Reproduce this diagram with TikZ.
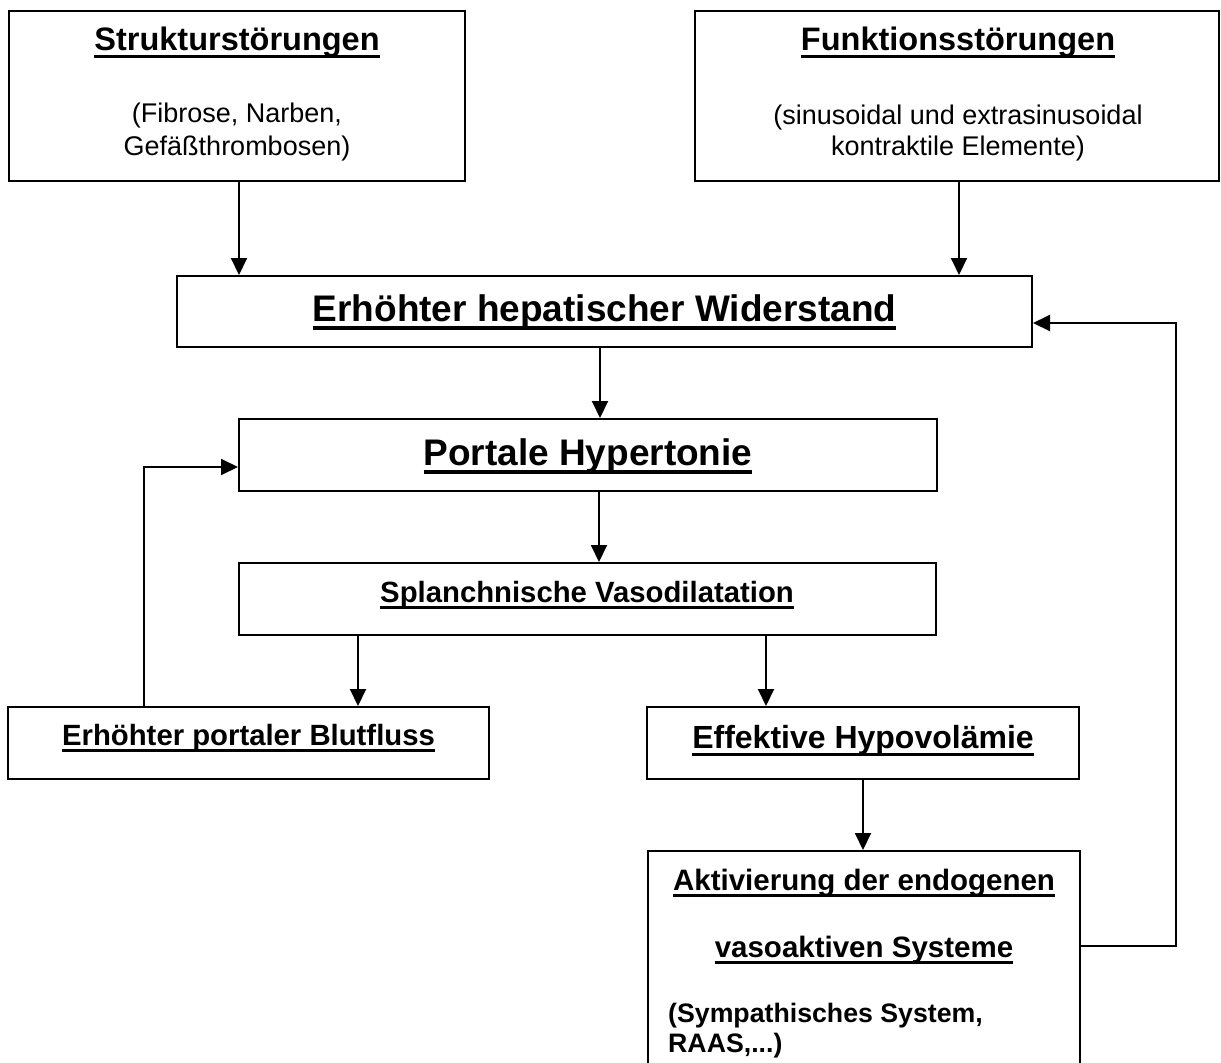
\documentclass[tikz,border=0pt]{standalone}
\usepackage{fontspec}
\setmainfont{Liberation Sans}
\usetikzlibrary{arrows.meta}
\newcommand\ulbar[1]{\setbox0\hbox{#1}\rlap{\rule[-0.24em]{\wd0}{0.095em}}\box0}
\tikzset{
  box/.style={draw, line width=2pt, inner sep=0pt},
  arr/.style={line width=2pt, -{Triangle[length=17pt,width=16pt]}},
  lbl/.style={anchor=base, inner sep=0pt},
  fA/.style={font=\fontsize{32.5}{39}\selectfont\bfseries},
  fB/.style={font=\fontsize{37}{44}\selectfont\bfseries},
  fC/.style={font=\fontsize{29.3}{35}\selectfont\bfseries},
  fD/.style={font=\fontsize{32}{38}\selectfont\bfseries},
  fF/.style={font=\fontsize{29.5}{35}\selectfont\bfseries},
  fE/.style={font=\fontsize{26.7}{32}\selectfont\bfseries},
  fS/.style={font=\fontsize{27}{32}\selectfont},
}
\begin{document}
\begin{tikzpicture}[x=1pt,y=-1pt]
\useasboundingbox (0,0) rectangle (1221,1063);
% boxes
\node[box, minimum width=456, minimum height=170] (b1) at (237,96) {};
\node[box, minimum width=524, minimum height=170] (b2) at (957,96) {};
\node[box, minimum width=855, minimum height=71] (b3) at (604.5,311.5) {};
\node[box, minimum width=698, minimum height=72] (b4) at (588,455) {};
\node[box, minimum width=697, minimum height=72] (b5) at (587.5,599) {};
\node[box, minimum width=481, minimum height=72] (b6) at (248.5,743) {};
\node[box, minimum width=432, minimum height=72] (b7) at (863,743) {};
\node[box, minimum width=432, minimum height=260] (b8) at (864,981) {};
% texts
\node[lbl, fA] (t1a) at (237,50) {\ulbar{Strukturstörungen}};
\node[lbl, fS] (t1b) at (237,122) {(Fibrose, Narben,};
\node[lbl, fS] (t1c) at (237,155) {Gefäßthrombosen)};
\node[lbl, fA] (t2a) at (958,50) {\ulbar{Funktionsstörungen}};
\node[lbl, fS] (t2b) at (958,124) {(sinusoidal und extrasinusoidal};
\node[lbl, fS] (t2c) at (958,155) {kontraktile Elemente)};
\node[lbl, fB] (t3) at (604.5,321) {\ulbar{Erhöhter hepatischer Widerstand}};
\node[lbl, fB] (t4) at (588,465) {\ulbar{Portale Hypertonie}};
\node[lbl, fC] (t5) at (587,602) {\ulbar{Splanchnische Vasodilatation}};
\node[lbl, fC] (t6) at (248.5,745) {\ulbar{Erhöhter portaler Blutfluss}};
\node[lbl, fD] (t7) at (863,748) {\ulbar{Effektive Hypovolämie}};
\node[lbl, fF] (t8a) at (864,890) {\ulbar{Aktivierung der endogenen}};
\node[lbl, fF] (t8b) at (864,957) {\ulbar{vasoaktiven Systeme}};
\node[lbl, fE, anchor=base west] (t8c) at (668,1022) {(Sympathisches System,};
\node[lbl, fE, anchor=base west] (t8d) at (668,1052) {RAAS,...)};
% connectors
\draw[arr] ([xshift=2]b1.south) -- ([xshift=2]b1.south |- b3.north);
\draw[arr] ([xshift=2]b2.south) -- ([xshift=2]b2.south |- b3.north);
\draw[arr] ([xshift=-4.5]b3.south) -- ([xshift=-4.5]b3.south |- b4.north);
\draw[arr] ([xshift=11]b4.south) -- ([xshift=11]b4.south |- b5.north);
\draw[arr] ([xshift=120]b5.south west) -- ([xshift=120]b5.south west |- b6.north);
\draw[arr] ([xshift=528]b5.south west) -- ([xshift=528]b5.south west |- b7.north);
\draw[arr] (b7.south) -- (b7.south |- b8.north);
\draw[arr] ([xshift=137]b6.north west) |- ([yshift=-12]b4.west);
\coordinate (fb) at (1176,323);
\draw[arr] ([yshift=-96]b8.north east) -| (fb) -- (fb -| b3.east);
\end{tikzpicture}
\end{document}
